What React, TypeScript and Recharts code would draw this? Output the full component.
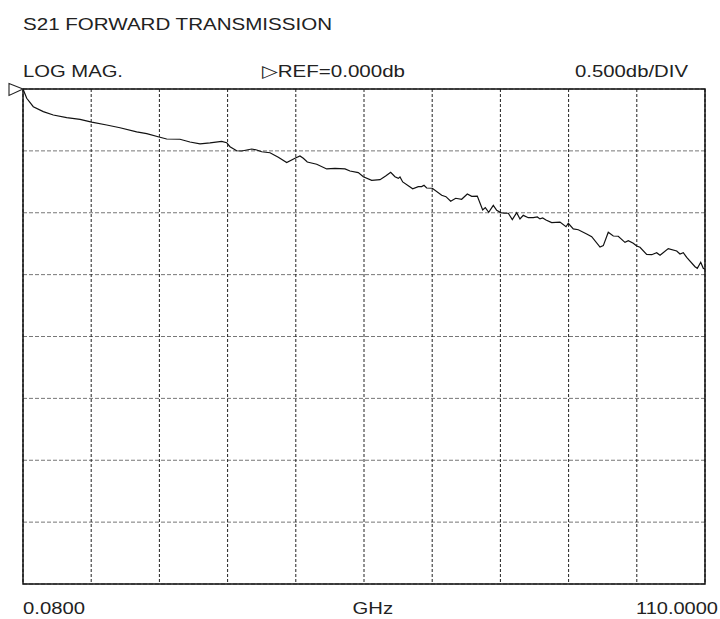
import React from "react";
import {
  LineChart,
  Line,
  XAxis,
  YAxis,
  CartesianGrid,
  ReferenceArea,
  ReferenceDot,
} from "recharts";

// Frequency (GHz) and S21 magnitude (dB)
const freqGHz = [
  0.08, 0.68, 1.74, 3.35, 4.96, 7.12, 9.27, 11.15, 13.57, 15.71, 18.4, 20.02, 22.16, 23.24, 25.38,
  26.99, 28.61, 30.22, 32.1, 32.91, 33.44, 34.52, 35.33, 36.94, 37.75, 38.55, 39.89, 41.23, 42.58,
  43.92, 44.72, 45.26, 45.9, 47.42, 49.03, 50.37, 51.98, 52.78, 54.12, 54.93, 56.28, 57.62, 58.53,
  59.34, 60.03, 60.57, 60.84, 61.28, 62.89, 63.79, 64.34, 64.71, 65.14, 66.05, 67.56, 68.25, 69.01,
  69.82, 70.78, 71.69, 72.4, 73.3, 74.17, 74.59, 75.14, 75.88, 76.43, 77.07, 77.65, 78.3, 78.94,
  79.65, 80.18, 80.71, 81.52, 82.32, 82.97, 83.4, 83.84, 84.37, 85.29, 86.63, 87.6, 87.97, 88.77,
  89.58, 90.93, 91.74, 93.08, 93.61, 94.41, 95.22, 96.02, 97.1, 97.64, 98.44, 98.99, 99.52, 100.6,
  101.41, 102.21, 102.75, 104.08, 105.44, 105.97, 106.5, 107.05, 108.39, 108.76, 109.31, 109.72, 110.0,
];

const s21dB = [
  0.0, -0.075, -0.143, -0.183, -0.21, -0.232, -0.245, -0.267, -0.291, -0.313, -0.347, -0.361, -0.39,
  -0.404, -0.406, -0.428, -0.444, -0.436, -0.423, -0.434, -0.466, -0.499, -0.501, -0.485, -0.493,
  -0.507, -0.515, -0.552, -0.595, -0.56, -0.541, -0.56, -0.59, -0.608, -0.646, -0.641, -0.646, -0.663,
  -0.676, -0.709, -0.738, -0.733, -0.703, -0.673, -0.709, -0.722, -0.711, -0.751, -0.806, -0.789,
  -0.789, -0.778, -0.8, -0.802, -0.859, -0.87, -0.907, -0.883, -0.891, -0.848, -0.867, -0.865, -0.978,
  -0.959, -0.996, -0.94, -0.98, -0.999, -1.004, -1.004, -1.056, -0.999, -1.05, -1.021, -1.04, -1.04,
  -1.034, -1.05, -1.042, -1.058, -1.08, -1.075, -1.113, -1.085, -1.131, -1.137, -1.172, -1.193, -1.277,
  -1.266, -1.158, -1.188, -1.19, -1.239, -1.226, -1.247, -1.269, -1.279, -1.336, -1.339, -1.323,
  -1.344, -1.29, -1.309, -1.333, -1.323, -1.36, -1.436, -1.449, -1.4, -1.449, -1.457,
];

const xTicks = [0.08, 11.072, 22.064, 33.056, 44.048, 55.04, 66.032, 77.024, 88.016, 99.008, 110];
const yTicks = [-4, -3.5, -3, -2.5, -2, -1.5, -1, -0.5, 0];

const title = "S21 FORWARD TRANSMISSION";
const formatLabel = "LOG MAG.";
const refLabel = "\u25B7REF=0.000db";
const scaleLabel = "0.500db/DIV";
const startLabel = "0.0800";
const unitLabel = "GHz";
const stopLabel = "110.0000";

const data = freqGHz.map((f, i) => ({ f, db: s21dB[i] }));

const RefMarker = (props: any) => {
  const { cx, cy } = props;
  return (
    <polygon
      points={`${cx - 14},${cy - 5.5} ${cx},${cy} ${cx - 14},${cy + 6.5}`}
      fill="#fff"
      stroke="#222"
      strokeWidth={1.1}
    />
  );
};

const textStyle: React.CSSProperties = {
  fontFamily: "'Liberation Sans', Arial, sans-serif",
  fontSize: 17,
  fill: "#222",
};

export default function App() {
  return (
    <div style={{ position: "absolute", left: 0, top: 0, width: 720, height: 619, background: "#fff" }}>
      <LineChart
        width={720}
        height={619}
        data={data}
        margin={{ top: 89, right: 15, bottom: 35, left: 23 }}
      >
        <XAxis dataKey="f" type="number" domain={[0.08, 110]} ticks={xTicks} hide />
        <YAxis type="number" domain={[-4, 0]} ticks={yTicks} hide />
        <CartesianGrid vertical={false} stroke="#777" strokeDasharray="4 2" strokeWidth={1} />
        <CartesianGrid horizontal={false} stroke="#222" strokeDasharray="3 2" strokeWidth={1} />
        <ReferenceArea
          x1={0.08}
          x2={110}
          y1={-4}
          y2={0}
          fill="none"
          stroke="#111"
          strokeWidth={1.5}
          ifOverflow="visible"
        />
        <Line
          type="linear"
          dataKey="db"
          stroke="#111"
          strokeWidth={1.2}
          dot={false}
          isAnimationActive={false}
        />
        <ReferenceDot x={0.08} y={0} ifOverflow="visible" shape={RefMarker} />
      </LineChart>
      <svg
        width={720}
        height={619}
        style={{ position: "absolute", left: 0, top: 0, pointerEvents: "none" }}
      >
        <text x={23} y={29.5} style={textStyle} textLength={309} lengthAdjust="spacingAndGlyphs">
          {title}
        </text>
        <text x={23} y={77} style={textStyle} textLength={100} lengthAdjust="spacingAndGlyphs">
          {formatLabel}
        </text>
        <text x={262} y={77} style={textStyle} textLength={143} lengthAdjust="spacingAndGlyphs">
          {refLabel}
        </text>
        <text x={575} y={77} style={textStyle} textLength={113} lengthAdjust="spacingAndGlyphs">
          {scaleLabel}
        </text>
        <text x={23} y={614} style={textStyle} textLength={62} lengthAdjust="spacingAndGlyphs">
          {startLabel}
        </text>
        <text x={352.5} y={614} style={textStyle} textLength={40.5} lengthAdjust="spacingAndGlyphs">
          {unitLabel}
        </text>
        <text x={636} y={614} style={textStyle} textLength={82} lengthAdjust="spacingAndGlyphs">
          {stopLabel}
        </text>
      </svg>
    </div>
  );
}
